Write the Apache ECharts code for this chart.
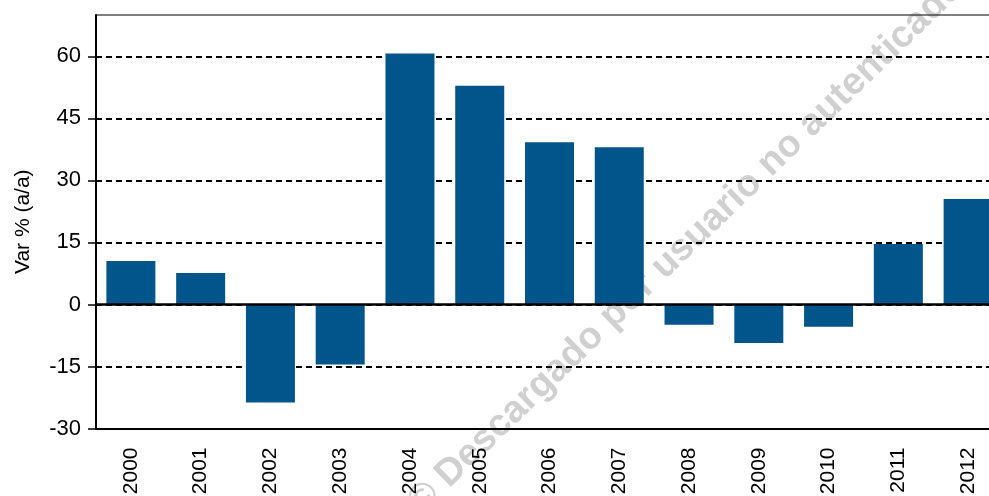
<!DOCTYPE html>
<html>
<head>
<meta charset="utf-8">
<script src="https://cdn.jsdelivr.net/npm/echarts@6/dist/echarts.min.js"></script>
<style>
  html, body { margin: 0; padding: 0; background: #fff; }
  #main { width: 989px; height: 496px; }
</style>
</head>
<body>
<div id="main"></div>
<script>
// years and year-on-year change (%)
const years = ['2000', '2001', '2002', '2003', '2004', '2005', '2006',
  '2007', '2008', '2009', '2010', '2011', '2012'];
const varPct = [10.5, 7.6, -23.7, -14.5, 60.7, 52.9, 39.2, 38.0, -4.9, -9.3, -5.4, 14.6, 25.5];
const yTicks = [-30, -15, 0, 15, 30, 45, 60];

let chart = echarts.init(document.getElementById('main'));

let option = {
  backgroundColor: '#fff',
  animation: false,
  textStyle: { fontFamily: 'Liberation Sans, Arial, sans-serif', color: '#000' },
  grid: {
    left: 96,
    top: 15,
    width: 907,
    height: 413.5,
    outerBoundsMode: 'none',
    containLabel: false,
    show: true,
    borderColor: '#000',
    borderWidth: 1,
    backgroundColor: 'transparent'
  },
  graphic: [
    {
      type: 'text',
      x: 686,
      y: 245,
      rotation: Math.PI * 44 / 180,
      z: -10,
      silent: true,
      style: {
        text: '© Descargado por usuario no autenticado',
        fill: '#d0d0d0',
        font: 'bold 38px "Liberation Sans", Arial, sans-serif',
        align: 'center',
        verticalAlign: 'middle'
      }
    }
  ],
  xAxis: {
    type: 'category',
    data: years,
    axisLine: { onZero: false, lineStyle: { color: '#000', width: 2 } },
    axisTick: { show: false },
    axisLabel: {
      rotate: 90,
      margin: 19,
      fontSize: 21,
      color: '#000'
    }
  },
  yAxis: {
    type: 'value',
    min: -30,
    max: 70,
    interval: 15,
    name: 'Var % (a/a)',
    nameLocation: 'middle',
    nameGap: 62,
    nameTextStyle: { fontSize: 21, color: '#000' },
    axisLine: { show: true, lineStyle: { color: '#000', width: 2 } },
    axisTick: {
      show: true,
      length: 8,
      customValues: yTicks,
      lineStyle: { color: '#000', width: 1.5 }
    },
    axisLabel: {
      fontSize: 22,
      margin: 15,
      color: '#000',
      customValues: yTicks
    },
    splitLine: {
      show: true,
      lineStyle: { color: '#000', width: 2, type: [6, 4] }
    }
  },
  series: [
    {
      type: 'bar',
      data: varPct,
      barWidth: 49,
      itemStyle: { color: '#02558b' },
      markLine: {
        silent: true,
        symbol: 'none',
        label: { show: false },
        lineStyle: { color: '#000', width: 2.5, type: 'solid' },
        data: [{ yAxis: 0 }]
      }
    }
  ]
};

option && chart.setOption(option);
</script>
</body>
</html>
